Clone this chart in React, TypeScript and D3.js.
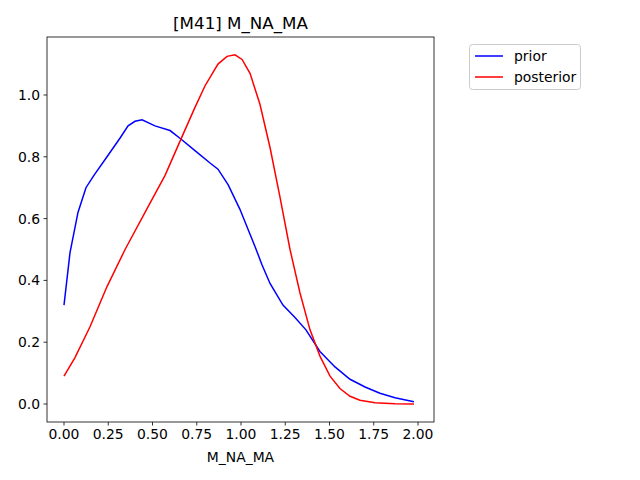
import React from "react";
import * as d3 from "d3";

const priorX = [0, 0.034, 0.079, 0.124, 0.169, 0.243, 0.316, 0.362, 0.401, 0.441, 0.514, 0.599, 0.655, 0.740, 0.825, 0.870, 0.927, 0.994, 1.079, 1.119, 1.164, 1.237, 1.305, 1.367, 1.446, 1.531, 1.616, 1.701, 1.785, 1.870, 1.977];
const priorY = [0.32, 0.49, 0.62, 0.70, 0.74, 0.80, 0.86, 0.90, 0.915, 0.92, 0.90, 0.885, 0.86, 0.82, 0.78, 0.76, 0.71, 0.63, 0.51, 0.45, 0.39, 0.32, 0.28, 0.24, 0.17, 0.12, 0.08, 0.055, 0.035, 0.02, 0.007];
const postX = [0, 0.062, 0.147, 0.243, 0.345, 0.486, 0.571, 0.655, 0.740, 0.797, 0.870, 0.921, 0.966, 1.006, 1.051, 1.107, 1.164, 1.220, 1.277, 1.333, 1.390, 1.446, 1.503, 1.559, 1.616, 1.672, 1.757, 1.870, 1.977];
const postY = [0.09, 0.15, 0.25, 0.38, 0.50, 0.65, 0.74, 0.85, 0.96, 1.03, 1.10, 1.125, 1.13, 1.115, 1.07, 0.97, 0.83, 0.67, 0.50, 0.36, 0.24, 0.155, 0.09, 0.05, 0.025, 0.012, 0.004, 0.001, 0.0];
const xTicks = [0, 0.25, 0.5, 0.75, 1.0, 1.25, 1.5, 1.75, 2.0];
const yTicks = [0, 0.2, 0.4, 0.6, 0.8, 1.0];

const L = 47, R = 434, T = 37, B = 422;

export default function App() {
  const x = d3.scaleLinear().domain([0, 2]).range([64, 418]);
  const y = d3.scaleLinear().domain([0, 1]).range([404, 95]);
  const line = d3.line<[number, number]>().x(d => x(d[0])).y(d => y(d[1]));
  const prior = line(priorX.map((v, i) => [v, priorY[i]]))!;
  const post = line(postX.map((v, i) => [v, postY[i]]))!;
  const font = "DejaVu Sans";
  return (
    <svg width={640} height={480} style={{ position: "absolute", left: 0, top: 0 }} fontFamily={font}>
      <rect width={640} height={480} fill="white" />
      <path d={prior} fill="none" stroke="blue" strokeWidth={1.5} />
      <path d={post} fill="none" stroke="red" strokeWidth={1.5} />
      <rect x={L} y={T} width={R - L} height={B - T} fill="none" stroke="black" strokeWidth={0.8} />
      {xTicks.map(t => (
        <g key={t}>
          <line x1={x(t)} x2={x(t)} y1={B} y2={B + 3.5} stroke="black" strokeWidth={0.8} />
          <text x={x(t)} y={B + 17} fontSize={13.9} textAnchor="middle">{t.toFixed(2)}</text>
        </g>
      ))}
      {yTicks.map(t => (
        <g key={t}>
          <line x1={L - 3.5} x2={L} y1={y(t)} y2={y(t)} stroke="black" strokeWidth={0.8} />
          <text x={L - 7} y={y(t) + 5} fontSize={13.9} textAnchor="end">{t.toFixed(1)}</text>
        </g>
      ))}
      <text x={(L + R) / 2} y={462} fontSize={13.9} textAnchor="middle">M_NA_MA</text>
      <text x={(L + R) / 2} y={29} fontSize={16.7} textAnchor="middle">[M41] M_NA_MA</text>
      <rect x={469.5} y={44.5} width={111} height={45} rx={3} fill="white" stroke="#cccccc" />
      <line x1={475} x2={503} y1={56} y2={56} stroke="blue" strokeWidth={1.5} />
      <text x={514} y={61} fontSize={13.9}>prior</text>
      <line x1={475} x2={503} y1={77} y2={77} stroke="red" strokeWidth={1.5} />
      <text x={514} y={82} fontSize={13.9}>posterior</text>
    </svg>
  );
}
